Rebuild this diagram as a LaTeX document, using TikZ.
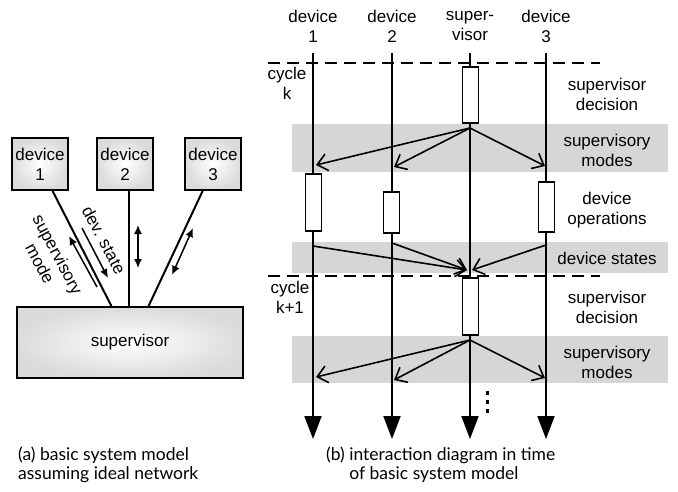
\documentclass[tikz,border=0pt]{standalone}
\usepackage{fontspec}
\setmainfont{Liberation Sans}
\newfontfamily\capfont{Lato}
\usetikzlibrary{arrows.meta}

\tikzset{
  txt/.style={align=center, font=\fontsize{17}{20}\selectfont, inner sep=0},
  devbox/.style={txt, draw, line width=2, shading=radial, inner color=white,
    outer color=black!14, minimum width=56, minimum height=52},
  supbox/.style={devbox, minimum width=226, minimum height=71},
  opbox/.style={draw, fill=white, line width=1.6, minimum width=16, inner sep=0},
  life/.style={line width=2, -{Triangle[length=23pt,width=17pt]}},
  msg/.style={line width=1.6, -{Straight Barb[length=10pt,width=17pt]}},
  flow/.style={line width=1.5, -{Latex[length=9pt,width=8pt]}},
  twoway/.style={line width=1.5, {Latex[length=9pt,width=8pt]}-{Latex[length=9pt,width=8pt]}},
  band/.style={fill=black!16},
  cycleline/.style={line width=1.6, dash pattern=on 12pt off 7pt},
  caption/.style={align=left, font=\capfont\fontsize{17.5}{18.5}\selectfont, inner sep=0}
}

\begin{document}
\begin{tikzpicture}[x=1pt,y=-1pt]
\useasboundingbox (0,0) rectangle (678,491);

% (a) basic model
\node[devbox] (dev1) at (40,164) {device\\1};
\node[devbox] (dev2) at (125,164) {device\\2};
\node[devbox] (dev3) at (213,164) {device\\3};
\node[supbox] (sup) at (130,342.5) {supervisor};

\draw[line width=2] (dev1.-65) -- (sup.117);
\draw[line width=2] (dev2.-81) -- (dev2.-81 |- sup.north);
\draw[line width=2] (dev3.-111) -- (sup.63);

\coordinate (mode1) at (97,287);
\coordinate (mode2) at (69,236);
\coordinate (state1) at (82,228);
\coordinate (state2) at (108,278);
\draw[flow] (mode1) -- (mode2);
\draw[flow] (state1) -- (state2);
\coordinate (bi1) at (138,225);
\coordinate (bi2) at (138,268);
\coordinate (bi3) at (193,228);
\coordinate (bi4) at (172,275);
\draw[twoway] (bi1) -- (bi2);
\draw[twoway] (bi3) -- (bi4);

\node[txt, rotate=-62] (modelbl) at (49,259) {supervisory\\mode};
\node[txt, rotate=-62] (statelbl) at (104,240) {dev. state};

\node[caption, anchor=north west] (capa) at (18,447)
  {(a) basic system model\\assuming ideal network};

% (b) interaction diagram
\fill[band] (292,124) rectangle (668,172);
\fill[band] (292,242) rectangle (668,273);
\fill[band] (292,336) rectangle (668,383);

\draw[cycleline] (268,63) -- (600,63);
\draw[cycleline] (268,276) -- (600,276);

\node[txt] (h1) at (313,26) {device\\1};
\node[txt] (h2) at (392,26) {device\\2};
\node[txt] (hs) at (470,26) {super-\\visor};
\node[txt] (h3) at (546,26) {device\\3};

\coordinate (t1) at (313,53);
\coordinate (t2) at (392,53);
\coordinate (ts) at (470,53);
\coordinate (t3) at (546,53);
\coordinate (e1) at (313,439);
\coordinate (e2) at (392,439);
\coordinate (es) at (470,439);
\coordinate (e3) at (546,439);
\draw[life] (t1) -- (e1);
\draw[life] (t2) -- (e2);
\draw[life] (ts) -- (es);
\draw[life] (t3) -- (e3);

\node[opbox, minimum height=56] (dec1) at (470.5,95) {};
\node[opbox, minimum height=57] (op1) at (313.5,202.5) {};
\node[opbox, minimum height=41] (op2) at (391.5,212.5) {};
\node[opbox, minimum height=50] (op3) at (546.5,207) {};
\node[opbox, minimum height=57] (dec2) at (470.5,306.5) {};

% supervisory modes, cycle k
\coordinate (m1) at (470,128);
\coordinate (m1a) at (316,165);
\coordinate (m1b) at (394,167);
\coordinate (m1c) at (545,166);
\draw[msg] (m1) -- (m1a);
\draw[msg] (m1) -- (m1b);
\draw[msg] (m1) -- (m1c);

% device states
\coordinate (s1) at (313,246);
\coordinate (s2) at (392,243);
\coordinate (s3) at (546,245);
\coordinate (sin) at (467,270);
\coordinate (sin3) at (472,270);
\draw[msg] (s1) -- (sin);
\draw[msg] (s2) -- (sin);
\draw[msg] (s3) -- (sin3);

% supervisory modes, cycle k+1
\coordinate (m2) at (470,340);
\coordinate (m2a) at (316,377);
\coordinate (m2b) at (394,380);
\coordinate (m2c) at (545,378);
\draw[msg] (m2) -- (m2a);
\draw[msg] (m2) -- (m2b);
\draw[msg] (m2) -- (m2c);

\foreach \y in {393,402,411}
  \fill (485.5,\y-1.8) rectangle ++(3.6,3.6);

\node[txt] (ck) at (287,83) {cycle\\k};
\node[txt] (ck1) at (290,297) {cycle\\k+1};

\node[txt] (l1) at (607,94) {supervisor\\decision};
\node[txt] (l2) at (607,150) {supervisory\\modes};
\node[txt] (l3) at (607,210) {device\\operations};
\node[txt] (l4) at (607,258) {device states};
\node[txt] (l5) at (607,307) {supervisor\\decision};
\node[txt] (l6) at (607,362) {supervisory\\modes};

\node[caption, anchor=north west] (capb) at (326,447)
  {(b) interaction diagram in time\\\hphantom{(b) }of basic system model};

\end{tikzpicture}
\end{document}
